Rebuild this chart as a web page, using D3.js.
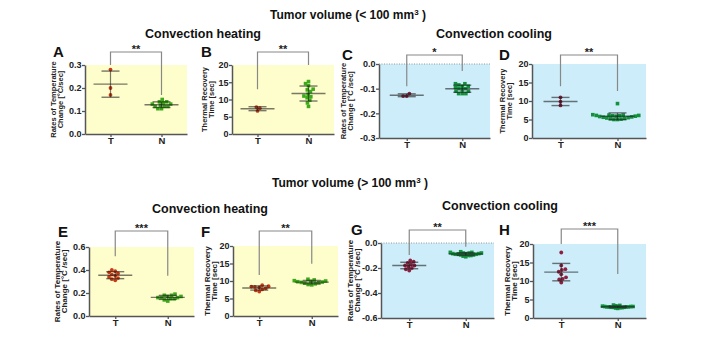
<!DOCTYPE html>
<html lang="en">
<head>
<meta charset="UTF-8">
<title>Tumor volume</title>
<script src="https://d3js.org/d3.v7.min.js"></script>
<style>
    body { margin: 0; background: #fff; }
    text { font-family: "Liberation Sans", Arial, sans-serif; }
</style>
</head>
<body>
<script>
    var width = 718, height = 339;

    var groups = ["T", "N"];
    var panelNames = ["A", "B", "C", "D", "E", "F", "G", "H"];

    // values (T = tumor, N = normal)
    var aT = [0.28, 0.20, 0.17];
    var aN = [0.15, 0.14, 0.14, 0.135, 0.13, 0.13, 0.125, 0.12, 0.12, 0.12, 0.11, 0.11];
    var bT = [7.8, 7.5, 6.7];
    var bN = [15.2, 14.6, 14.0, 13.0, 12.8, 12.3, 11.5, 11.0, 10.8, 10.5, 9.8, 9.0, 8.0];
    var cT = [-0.12, -0.13, -0.13];
    var cN = [-0.08, -0.08, -0.085, -0.09, -0.09, -0.095, -0.10, -0.10, -0.105, -0.11, -0.11, -0.12, -0.12, -0.12];
    var dT = [11.0, 9.8, 8.8];
    var dN = [9.3, 6.3, 6.2, 6.2, 6.1, 6.1, 6.0, 6.0, 5.9, 5.9, 5.8, 5.7, 5.6, 5.5, 5.4, 5.3, 5.2, 5.1, 5.0, 5.0];
    var eT = [0.40, 0.39, 0.38, 0.37, 0.36, 0.35, 0.34, 0.33, 0.32, 0.31];
    var eN = [0.19, 0.18, 0.18, 0.17, 0.17, 0.16, 0.16, 0.16, 0.15, 0.15, 0.14, 0.13];
    var fT = [8.8, 8.5, 8.4, 8.3, 8.2, 7.9, 7.6, 7.3, 7.0];
    var fN = [10.5, 10.3, 10.1, 10.0, 9.9, 9.8, 9.7, 9.6, 9.5, 9.4, 9.2, 9.0, 8.9];
    var gT = [-0.14, -0.15, -0.16, -0.17, -0.18, -0.18, -0.19, -0.20, -0.21, -0.22];
    var gN = [-0.07, -0.075, -0.075, -0.08, -0.08, -0.08, -0.085, -0.085, -0.085, -0.09, -0.09, -0.09, -0.095, -0.095, -0.10, -0.10, -0.105, -0.11];
    var hT = [17.7, 14.2, 13.2, 13.0, 12.5, 11.8, 11.0, 10.6, 10.4, 9.6];
    var hN = [2.6, 2.7, 2.8, 2.8, 2.9, 2.9, 2.9, 3.0, 3.0, 3.0, 3.0, 3.1, 3.1, 3.1, 3.2, 3.2, 3.3, 3.4, 3.5];

    var ticksRate1 = [0, 0.1, 0.2, 0.3];
    var ticksTime = [0, 5, 10, 15, 20];
    var ticksCool1 = [0, -0.1, -0.2, -0.3];
    var ticksRate2 = [0, 0.2, 0.4, 0.6];
    var ticksCool2 = [0, -0.2, -0.4, -0.6];

    var stars = ["**", "**", "*", "**", "***", "**", "**", "***"];
    // where the bracket legs stop, in data units
    var legT = [0.30, 13, -0.09, 14, 0.52, 11.7, -0.096, 20];
    var legN = [0.17, 20, -0.028, 12.7, 0.35, 14.9, -0.03, 11.9];

    var rateLabel1 = ["Rates of Temperature", "Change [°C/sec]"];
    var rateLabel2 = ["Rates of Temperature", "Change [°C /sec]"];
    var timeLabel = ["Thermal Recovery", "Time [sec]"];

    var panels = [
        {T: aT, N: aN, ticks: ticksRate1, label: rateLabel1, mode: "heat"},
        {T: bT, N: bN, ticks: ticksTime, label: timeLabel, mode: "heat"},
        {T: cT, N: cN, ticks: ticksCool1, label: rateLabel2, mode: "cool"},
        {T: dT, N: dN, ticks: ticksTime, label: timeLabel, mode: "cool"},
        {T: eT, N: eN, ticks: ticksRate2, label: rateLabel2, mode: "heat"},
        {T: fT, N: fN, ticks: ticksTime, label: timeLabel, mode: "heat"},
        {T: gT, N: gN, ticks: ticksCool2, label: rateLabel2, mode: "cool"},
        {T: hT, N: hN, ticks: ticksTime, label: timeLabel, mode: "cool"}
    ];

    // plot boxes in pixels; sep = spacing of points in the swarm
    var layout = [
        {x0: 85, x1: 187, y0: 65, y1: 134, lx: 53, ly: 57, tx: 56, fs: 7.5, brk: 52, sep: 3.6},
        {x0: 232, x1: 334, y0: 65, y1: 134, lx: 201, ly: 57, tx: 207, fs: 7.5, brk: 52, sep: 3.6},
        {x0: 379, x1: 490, y0: 64, y1: 138, lx: 342, ly: 60, tx: 345.5, fs: 7.5, brk: 55, sep: 3.6},
        {x0: 532, x1: 646, y0: 64, y1: 138, lx: 499, ly: 60, tx: 504.5, fs: 7.5, brk: 55, sep: 3.6},
        {x0: 89, x1: 194, y0: 247, y1: 316, lx: 58, ly: 237, tx: 59.5, fs: 8, brk: 231, sep: 3.6},
        {x0: 233, x1: 338, y0: 246, y1: 316, lx: 201, ly: 237, tx: 209.5, fs: 8, brk: 231, sep: 3.6},
        {x0: 381, x1: 494, y0: 243, y1: 318, lx: 351, ly: 235, tx: 352.5, fs: 8, brk: 230, sep: 2.7},
        {x0: 533, x1: 646, y0: 244, y1: 318, lx: 499, ly: 235, tx: 509.5, fs: 8, brk: 229, sep: 2.2}
    ];

    var bg = {heat: "#FEFECC", cool: "#CCEDF9"};
    var colT = {heat: "#CC3A14", cool: "#8E1F3F"};
    var colN = {heat: "#3DAA1A", cool: "#13923E"};

    var svg = d3.select("body").append("svg")
        .attr("width", width)
        .attr("height", height);

    // headings
    function title(x, y, sign) {
        var t = svg.append("text")
            .attr("x", x).attr("y", y)
            .attr("text-anchor", "middle")
            .attr("font-size", "12px")
            .attr("font-weight", "bold")
            .attr("fill", "#111");
        t.append("tspan").text("Tumor volume (" + sign + " 100 mm");
        t.append("tspan").attr("font-size", "8px").attr("dy", "-4").text("3");
        t.append("tspan").attr("dy", "4").text(" )");
    }
    title(348, 19, "<");
    title(350, 187, ">");

    function heading(x, y, s) {
        svg.append("text")
            .attr("x", x).attr("y", y)
            .attr("text-anchor", "middle")
            .attr("font-size", "12.5px")
            .attr("font-weight", "bold")
            .attr("fill", "#111")
            .text(s);
    }
    heading(203, 38, "Convection heating");
    heading(494, 38, "Convection cooling");
    heading(210, 213, "Convection heating");
    heading(500, 210, "Convection cooling");

    // simple beeswarm: lowest points first, each pushed sideways to the nearest free spot
    function swarm(vals, cx, y, sep) {
        var pts = vals.map(function (v) { return {v: v, y: y(v)}; })
            .sort(function (a, b) { return b.y - a.y; });
        var placed = [];
        pts.forEach(function (p) {
            var near = placed.filter(function (q) { return Math.abs(q.y - p.y) < sep; });
            var cands = [cx];
            near.forEach(function (q) {
                var dx = Math.sqrt(sep * sep - (q.y - p.y) * (q.y - p.y));
                cands.push(q.x - dx - 0.01, q.x + dx + 0.01);
            });
            cands.sort(function (a, b) { return Math.abs(a - cx) - Math.abs(b - cx); });
            p.x = cands.find(function (c) {
                return near.every(function (q) {
                    return (q.x - c) * (q.x - c) + (q.y - p.y) * (q.y - p.y) >= sep * sep - 0.02;
                });
            });
            placed.push(p);
        });
        return placed;
    }

    panels.forEach(function (p, i) {
        var L = layout[i];
        var g = svg.append("g");

        var yScale = d3.scaleLinear()
            .domain(d3.extent(p.ticks))
            .range([L.y1, L.y0]);
        var xScale = d3.scalePoint()
            .domain(groups)
            .range([L.x0, L.x1])
            .padding(0.5);

        g.append("rect")
            .attr("x", L.x0).attr("y", L.y0)
            .attr("width", L.x1 - L.x0)
            .attr("height", L.y1 - L.y0)
            .attr("fill", bg[p.mode]);

        // dotted zero line for the negative (cooling rate) panels
        if (d3.min(p.ticks) < 0) {
            g.append("line")
                .attr("x1", L.x0).attr("x2", L.x1)
                .attr("y1", yScale(0)).attr("y2", yScale(0))
                .attr("stroke", "#999")
                .attr("stroke-width", 1)
                .attr("stroke-dasharray", "1,1.5");
        }

        var decimals = p.ticks.some(function (t) { return t % 1 !== 0; });
        var fmt = decimals ? function (d) { return d.toFixed(1); } : d3.format("d");

        var yAxis = g.append("g")
            .attr("transform", "translate(" + L.x0 + ",0)")
            .call(d3.axisLeft(yScale).tickValues(p.ticks).tickFormat(fmt).tickSize(3).tickSizeOuter(0));
        var xAxis = g.append("g")
            .attr("transform", "translate(0," + L.y1 + ")")
            .call(d3.axisBottom(xScale).tickSize(3).tickSizeOuter(0));
        [yAxis, xAxis].forEach(function (ax) {
            ax.select(".domain").attr("stroke", "#555").attr("stroke-width", 1.5);
            ax.selectAll(".tick line").attr("stroke", "#555").attr("stroke-width", 1.3);
            ax.selectAll(".tick text")
                .attr("fill", "#222")
                .attr("font-family", "Liberation Sans, Arial, sans-serif")
                .attr("font-weight", "bold")
                .attr("font-size", "9px");
        });
        yAxis.selectAll(".tick text").attr("x", -3.5);
        xAxis.selectAll(".tick text").attr("y", 3).attr("font-size", "9.5px");

        // panel letter
        svg.append("text")
            .attr("x", L.lx).attr("y", L.ly)
            .attr("font-size", "15px")
            .attr("font-weight", "bold")
            .attr("fill", "#111")
            .text(panelNames[i]);

        // axis title on two lines
        var yc = (L.y0 + L.y1) / 2;
        var at = svg.append("text")
            .attr("transform", "translate(" + L.tx + "," + yc + ") rotate(-90)")
            .attr("text-anchor", "middle")
            .attr("font-size", L.fs + "px")
            .attr("font-weight", "bold")
            .attr("fill", "#222");
        p.label.forEach(function (s, k) {
            at.append("tspan")
                .attr("x", 0)
                .attr("dy", k === 0 ? 0 : L.fs * 0.98)
                .text(s);
        });

        // significance bracket
        var xt = xScale("T"), xn = xScale("N");
        g.append("path")
            .attr("d", "M" + xt + "," + yScale(legT[i]) + "V" + L.brk + "H" + xn + "V" + yScale(legN[i]))
            .attr("fill", "none")
            .attr("stroke", "#888")
            .attr("stroke-width", 1.2);
        g.append("text")
            .attr("x", (xt + xn) / 2)
            .attr("y", L.brk + 1)
            .attr("text-anchor", "middle")
            .attr("font-size", "11px")
            .attr("font-weight", "bold")
            .attr("fill", "#222")
            .text(stars[i]);

        // points, then mean and SD on top
        groups.forEach(function (key) {
            var vals = p[key];
            var cx = xScale(key);
            var pts = swarm(vals, cx, yScale, key === "T" ? 3.6 : L.sep);
            var col = key === "T" ? colT[p.mode] : colN[p.mode];
            if (key === "T") {
                g.selectAll(null).data(pts).enter().append("circle")
                    .attr("cx", function (d) { return d.x; })
                    .attr("cy", function (d) { return d.y; })
                    .attr("r", 1.9)
                    .attr("fill", col);
            } else {
                g.selectAll(null).data(pts).enter().append("rect")
                    .attr("x", function (d) { return d.x - 1.8; })
                    .attr("y", function (d) { return d.y - 1.8; })
                    .attr("width", 3.6)
                    .attr("height", 3.6)
                    .attr("fill", col);
            }

            var m = d3.mean(vals), sd = d3.deviation(vals);
            var lc = "rgba(30,30,30,0.6)";
            g.append("line")
                .attr("x1", cx - 17).attr("x2", cx + 17)
                .attr("y1", yScale(m)).attr("y2", yScale(m))
                .attr("stroke", lc).attr("stroke-width", 1.4);
            [m + sd, m - sd].forEach(function (v) {
                g.append("line")
                    .attr("x1", cx - 9).attr("x2", cx + 9)
                    .attr("y1", yScale(v)).attr("y2", yScale(v))
                    .attr("stroke", lc).attr("stroke-width", 1.4);
            });
            g.append("line")
                .attr("x1", cx).attr("x2", cx)
                .attr("y1", yScale(m + sd)).attr("y2", yScale(m - sd))
                .attr("stroke", lc).attr("stroke-width", 1.2);
        });
    });
</script>
</body>
</html>
